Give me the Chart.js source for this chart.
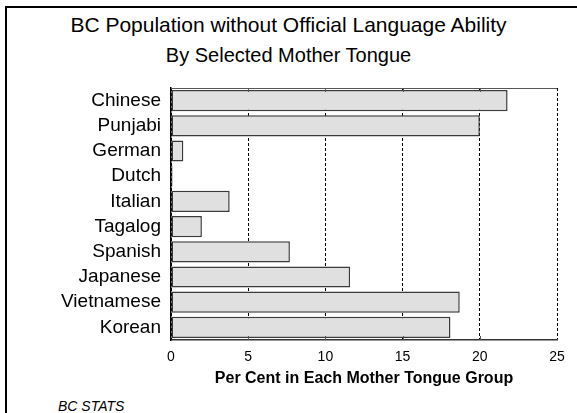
<!DOCTYPE html>
<html>
<head>
<meta charset="utf-8">
<script src="https://cdn.jsdelivr.net/npm/chart.js@4.4.0/dist/chart.umd.min.js"></script>
<style>
  body { margin: 0; background: #fff; }
  #wrap { position: relative; width: 577px; height: 413px; overflow: hidden; font-family: "Liberation Sans", Arial, sans-serif; }
  #frame { position: absolute; left: 5px; top: 6px; width: 600px; height: 500px; border-top: 2px solid #000; border-left: 2px solid #000; }
  .t { position: absolute; left: 0; width: 577px; text-align: center; color: #000; line-height: 1; white-space: nowrap; }
  #t1 { top: 14px; font-size: 21px; }
  #t2 { top: 45px; font-size: 20px; }
  #note { position: absolute; left: 58px; top: 399px; font-size: 14px; line-height: 1; font-style: italic; }
  canvas { position: absolute; left: 0; top: 0; }
</style>
</head>
<body>
<div id="wrap">
  <div id="frame"></div>
  <div class="t" id="t1">BC Population without Official Language Ability</div>
  <div class="t" id="t2">By Selected Mother Tongue</div>
  <div id="note">BC STATS</div>
  <canvas id="bar-chart" width="577" height="413"></canvas>
</div>
<script>
// per cent of each mother tongue group with no English or French
const languages = ['Chinese', 'Punjabi', 'German', 'Dutch', 'Italian', 'Tagalog', 'Spanish', 'Japanese', 'Vietnamese', 'Korean']
const percents = [21.8, 20.0, 0.8, 0.1, 3.8, 2.0, 7.7, 11.6, 18.7, 18.1]
const xTicks = [0, 5, 10, 15, 20, 25]

const FONT = '"Liberation Sans", Arial, sans-serif'

// top edge of the plot box + the little tick marks on top and bottom
const boxTop = {
  id: 'boxTop',
  afterDraw(chart) {
    const { ctx, chartArea: a } = chart
    const x = chart.scales.x
    ctx.save()
    ctx.strokeStyle = '#555'
    ctx.lineWidth = 1
    ctx.beginPath()
    ctx.moveTo(a.left, a.top + 0.5)
    ctx.lineTo(a.right, a.top + 0.5)
    xTicks.slice(1, -1).forEach(v => {
      const px = Math.round(x.getPixelForValue(v)) + 0.5
      ctx.moveTo(px, a.top)
      ctx.lineTo(px, a.top + 4)
      ctx.moveTo(px, a.bottom)
      ctx.lineTo(px, a.bottom - 4)
    })
    ctx.stroke()
    ctx.restore()
  }
}

const barCtx = document.getElementById('bar-chart').getContext('2d')
new Chart(barCtx, {
  type: 'bar',
  data: {
    labels: languages,
    datasets: [{
      data: percents,
      backgroundColor: '#e0e0e0',
      borderColor: '#3a3a3a',
      borderWidth: 1.5,
      borderSkipped: false,
      barPercentage: 0.84,
      categoryPercentage: 1,
    }],
  },
  options: {
    indexAxis: 'y',
    responsive: false,
    animation: false,
    layout: { padding: { top: 88, right: 20, bottom: 25, left: 0 } },
    plugins: { legend: { display: false }, tooltip: { enabled: false } },
    scales: {
      x: {
        min: 0,
        max: 25,
        afterBuildTicks: (s) => { s.ticks = xTicks.map(v => ({ value: v })) },
        afterFit: (s) => { s.height = 48 },
        grid: { color: '#000', lineWidth: 1, drawTicks: false },
        border: { display: true, color: '#333', width: 1.5, dash: [3, 2] },
        ticks: { color: '#000', padding: 9, font: { family: FONT, size: 14 } },
        title: {
          display: true,
          text: 'Per Cent in Each Mother Tongue Group',
          color: '#000',
          padding: { top: 0, bottom: 0 },
          font: { family: FONT, size: 16, weight: 'bold' },
        },
      },
      y: {
        afterFit: (s) => { s.width = 171 },
        grid: { display: false, drawTicks: false },
        border: { display: true, color: '#000', width: 1.5 },
        ticks: { color: '#000', padding: 10, autoSkip: false, font: { family: FONT, size: 19 } },
      },
    },
  },
  plugins: [boxTop],
})
</script>
</body>
</html>
